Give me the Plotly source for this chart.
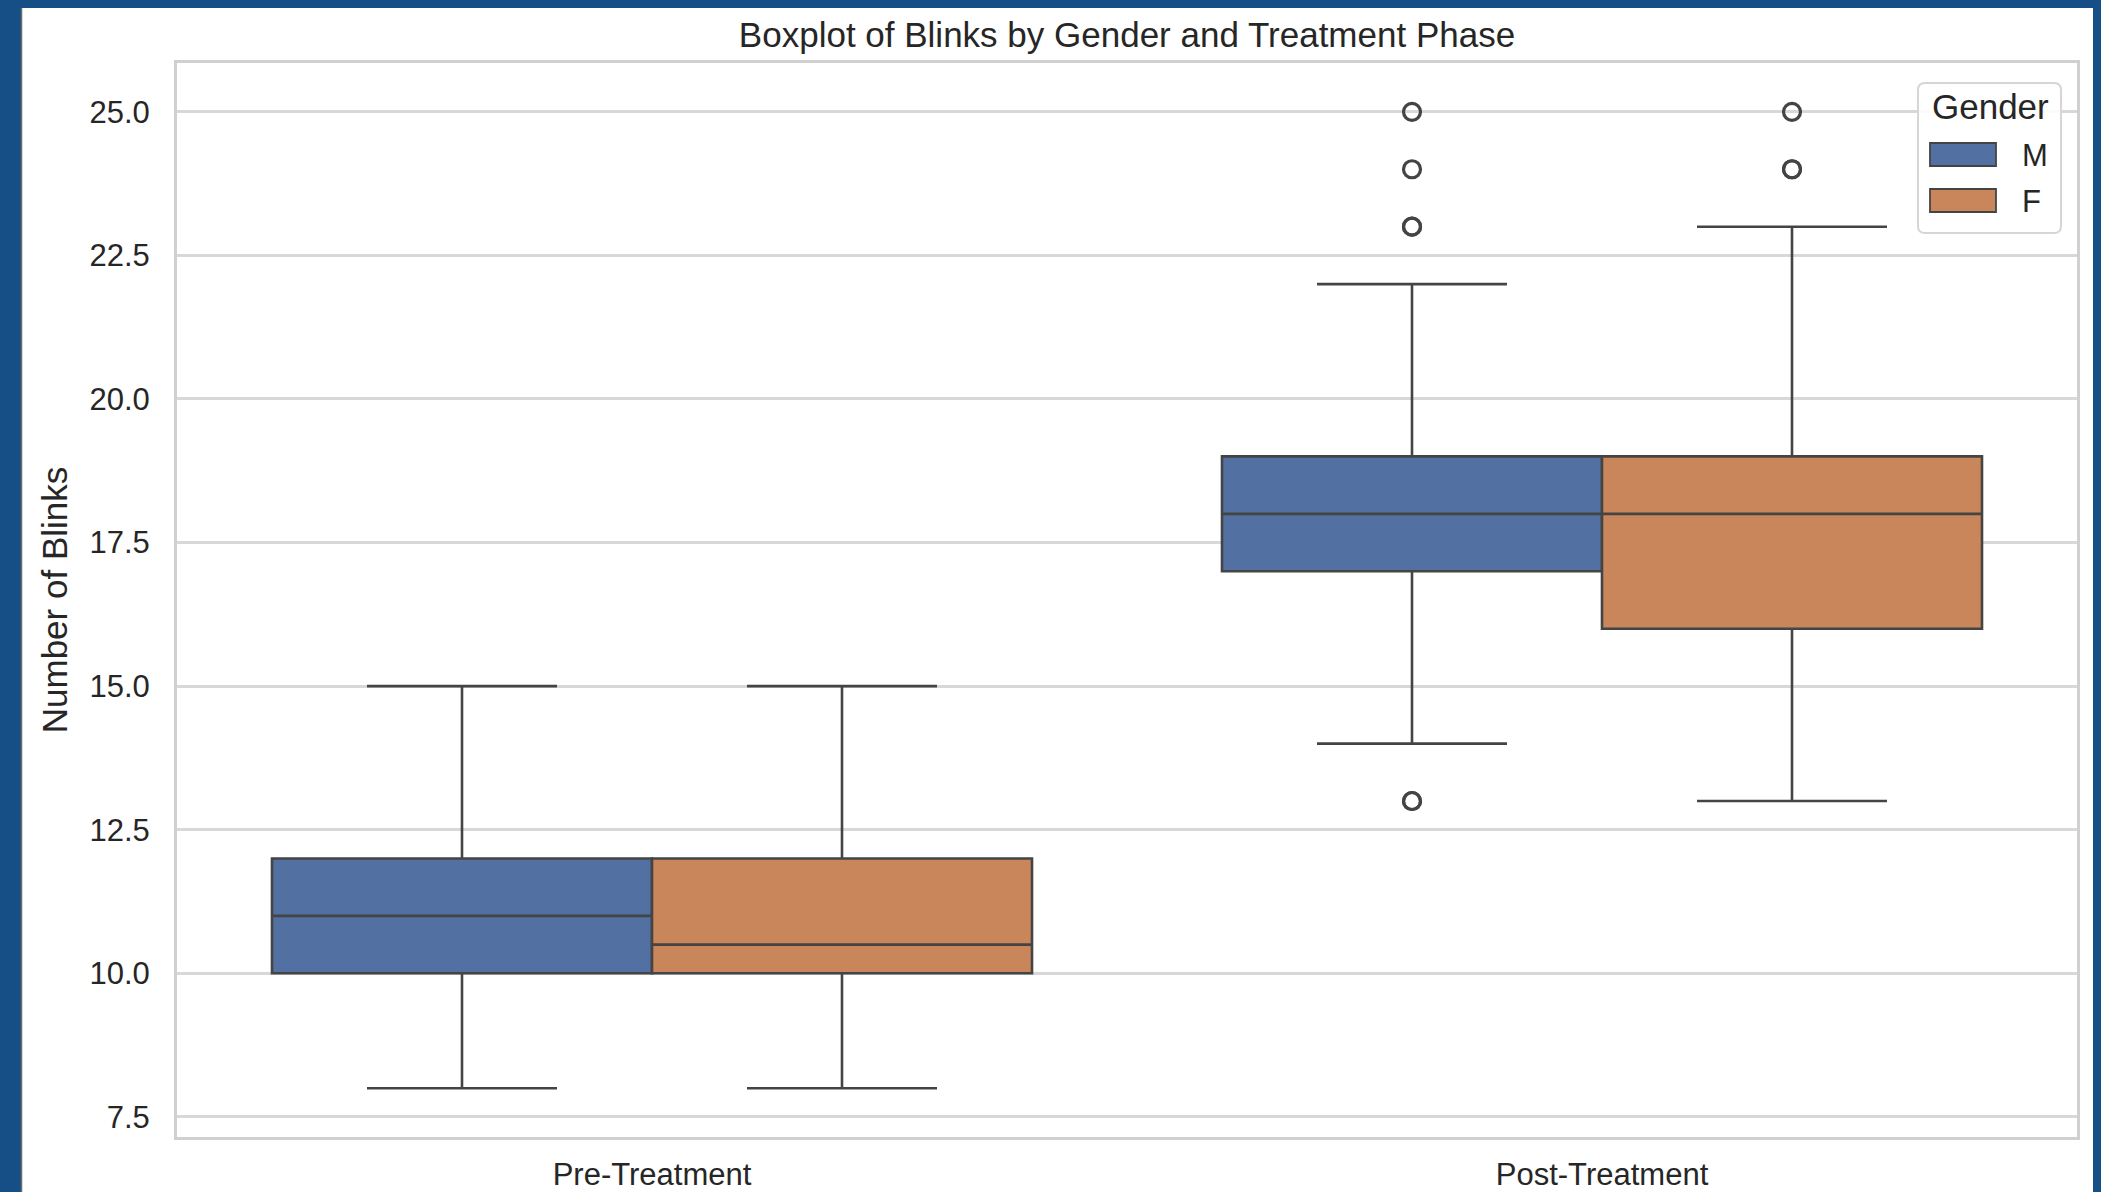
import plotly.graph_objects as go

# Treatment phases on the x axis
phases = ["Pre-Treatment", "Post-Treatment"]

# Box statistics per gender, one value per phase
m_q1 = [10, 17]
m_median = [11, 18]
m_q3 = [12, 19]
m_lower = [8, 14]
m_upper = [15, 22]
m_outliers = [[], [13, 13, 23, 23, 24, 25]]

f_q1 = [10, 16]
f_median = [10.5, 18]
f_q3 = [12, 19]
f_lower = [8, 13]
f_upper = [15, 23]
f_outliers = [[], [24, 24, 25]]

genders = ["M", "F"]
gender_colors = ["#5271a2", "#c9865b"]

y_ticks = [7.5, 10.0, 12.5, 15.0, 17.5, 20.0, 22.5, 25.0]

W, H = 2101, 1192
M_L, M_R, M_T, M_B = 177, 24, 63, 55
plot_w = W - M_L - M_R
plot_h = H - M_T - M_B

FONT = "Liberation Sans, Arial, Helvetica, sans-serif"
TEXT = "#262626"
EDGE = "#444444"


def paper_x(px):
    return (px - M_L) / plot_w


def paper_y(py):
    return (H - M_B - py) / plot_h


def add_gender(fig, name, color, q1, med, q3, lo, hi, outliers):
    # one box per phase so phases without outliers need no sample points
    for i, phase in enumerate(phases):
        kw = {}
        if outliers[i]:
            kw["y"] = [outliers[i]]
        fig.add_trace(go.Box(
            name=name,
            offsetgroup=name,
            showlegend=False,
            x=[phase],
            q1=[q1[i]],
            median=[med[i]],
            q3=[q3[i]],
            lowerfence=[lo[i]],
            upperfence=[hi[i]],
            boxpoints="outliers",
            pointpos=0,
            jitter=0,
            whiskerwidth=0.5,
            fillcolor=color,
            line=dict(color=EDGE, width=2.6),
            marker=dict(symbol="circle-open", size=17, color=EDGE,
                        line=dict(color=EDGE, width=3.2)),
            **kw,
        ))


fig = go.Figure()
add_gender(fig, genders[0], gender_colors[0], m_q1, m_median, m_q3, m_lower, m_upper, m_outliers)
add_gender(fig, genders[1], gender_colors[1], f_q1, f_median, f_q3, f_lower, f_upper, f_outliers)

# white figure card on a dark blue page
fig.add_shape(type="rect", xref="paper", yref="paper",
              x0=paper_x(21), x1=paper_x(2093), y0=paper_y(H + 5), y1=paper_y(8),
              fillcolor="white", line=dict(width=0), layer="below")
fig.add_shape(type="line", xref="paper", yref="paper",
              x0=paper_x(21.5), x1=paper_x(21.5), y0=paper_y(H + 5), y1=paper_y(8),
              line=dict(color="#6b6b6b", width=1.5), layer="below")

# legend: rounded frame, title, and one wide patch per gender
lg_x0, lg_y1, lg_w, lg_h, rad = 1918, 233, 143, 150, 7
frame = (f"M {rad},0 L {lg_w - rad},0 Q {lg_w},0 {lg_w},{rad} "
         f"L {lg_w},{lg_h - rad} Q {lg_w},{lg_h} {lg_w - rad},{lg_h} "
         f"L {rad},{lg_h} Q 0,{lg_h} 0,{lg_h - rad} L 0,{rad} Q 0,0 {rad},0 Z")
fig.add_shape(type="path", xref="paper", yref="paper",
              xsizemode="pixel", ysizemode="pixel",
              xanchor=paper_x(lg_x0), yanchor=paper_y(lg_y1),
              path=frame, fillcolor="rgba(255,255,255,0.9)",
              line=dict(color="#d6d6d6", width=2), layer="above")
fig.add_annotation(text="Gender", xref="paper", yref="paper",
                   x=paper_x(1990), y=paper_y(107), xanchor="center", yanchor="middle",
                   showarrow=False, font=dict(size=35, color=TEXT, family=FONT))
for k, (g, c) in enumerate(zip(genders, gender_colors)):
    top = 143 + 46 * k
    fig.add_shape(type="rect", xref="paper", yref="paper",
                  x0=paper_x(1930), x1=paper_x(1996),
                  y0=paper_y(top + 23), y1=paper_y(top),
                  fillcolor=c, line=dict(color=EDGE, width=1.8), layer="above")
    fig.add_annotation(text=g, xref="paper", yref="paper",
                       x=paper_x(2020), y=paper_y(top + 12), xanchor="left", yanchor="middle",
                       showarrow=False, font=dict(size=31, color=TEXT, family=FONT))

fig.update_layout(
    width=W,
    height=H,
    margin=dict(l=M_L, r=M_R, t=M_T, b=M_B),
    paper_bgcolor="#154f86",
    plot_bgcolor="white",
    font=dict(family=FONT, color=TEXT, size=31),
    boxmode="group",
    boxgap=0.2,
    boxgroupgap=0,
    showlegend=False,
    title=dict(text="Boxplot of Blinks by Gender and Treatment Phase",
               x=0.5, xref="paper", xanchor="center",
               y=1 - 35 / H, yref="container", yanchor="middle",
               font=dict(size=35, color=TEXT, family=FONT)),
)

fig.update_xaxes(
    type="category",
    categoryorder="array",
    categoryarray=phases,
    range=[-0.5, 1.5],
    automargin=False,
    showgrid=False,
    showline=True, mirror=True, linecolor="#d0d0d0", linewidth=3,
    ticks="", ticklabelstandoff=8,
    tickfont=dict(size=31, color=TEXT),
    zeroline=False,
)
fig.update_yaxes(
    range=[7.15, 25.85],
    tickvals=y_ticks,
    tickformat=".1f",
    automargin=False,
    showgrid=True, gridcolor="#d8d8d8", gridwidth=2.5,
    showline=True, mirror=True, linecolor="#d0d0d0", linewidth=3,
    ticks="", ticklabelstandoff=18,
    tickfont=dict(size=31, color=TEXT),
    zeroline=False,
    title=dict(text="Number of Blinks", font=dict(size=35, color=TEXT), standoff=12),
)

fig.write_html("out.html")
